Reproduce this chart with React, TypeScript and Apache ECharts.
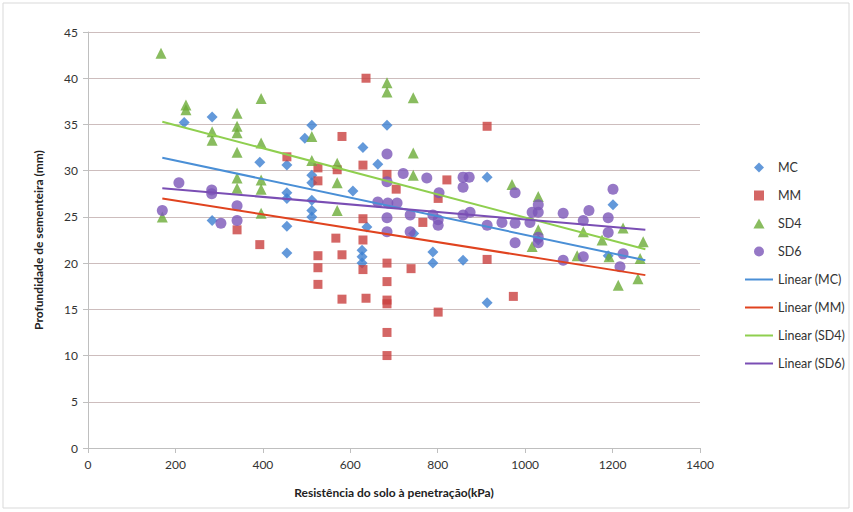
import React, { useEffect, useRef } from "react";
import * as echarts from "echarts";

const xTicks = [0, 200, 400, 600, 800, 1000, 1200, 1400];

const mcData: [number, number][] = [
  [220, 35.2], [284, 35.8], [284, 24.6], [393, 30.9], [455, 30.6], [455, 27.6], [455, 27.0],
  [455, 24.0], [455, 21.1], [496, 33.5], [512, 34.9], [512, 29.5], [512, 28.7], [512, 26.8],
  [512, 25.7], [512, 25.0], [606, 27.8], [629, 32.5], [627, 21.4], [627, 20.7], [627, 20.0],
  [638, 23.9], [663, 30.7], [684, 34.9], [745, 23.2], [789, 21.2], [789, 20.0], [858, 20.3],
  [913, 29.3], [913, 15.7], [1030, 22.5], [1190, 20.8], [1201, 26.3],
];

const mmData: [number, number][] = [
  [341, 23.6], [393, 22.0], [455, 31.5], [526, 30.3], [526, 28.9], [526, 20.8], [526, 19.5],
  [526, 17.7], [567, 22.7], [570, 30.1], [581, 33.7], [581, 20.9], [581, 16.1], [629, 30.6],
  [629, 24.8], [629, 22.5], [629, 19.3], [636, 40.0], [636, 16.2], [684, 29.6], [684, 20.0],
  [684, 18.0], [684, 16.0], [684, 15.6], [684, 12.5], [684, 10.0], [705, 28.0], [739, 19.4],
  [766, 24.4], [801, 27.0], [801, 14.7], [821, 29.0], [913, 34.8], [913, 20.4], [973, 16.4],
];

const sd4Data: [number, number][] = [
  [167, 42.7], [170, 25.0], [224, 37.1], [224, 36.6], [284, 34.2], [284, 33.3], [341, 36.2],
  [341, 34.8], [341, 34.1], [341, 32.0], [341, 29.2], [341, 28.1], [396, 37.8], [396, 33.0],
  [396, 29.0], [396, 28.0], [396, 25.4], [512, 33.7], [512, 31.1], [570, 30.8], [570, 28.7],
  [570, 25.7], [684, 39.5], [684, 38.5], [744, 37.9], [744, 31.9], [744, 29.5], [970, 28.5],
  [1016, 21.8], [1030, 27.2], [1030, 23.6], [1119, 20.8], [1133, 23.4], [1176, 22.5],
  [1192, 20.7], [1213, 17.6], [1224, 23.8], [1258, 18.3], [1263, 20.5], [1270, 22.3],
];

const sd6Data: [number, number][] = [
  [170, 25.7], [208, 28.7], [283, 27.9], [283, 27.5], [304, 24.3], [341, 26.2], [341, 24.6],
  [663, 26.6], [684, 31.8], [684, 28.8], [684, 24.9], [684, 23.4], [686, 26.5], [707, 26.5],
  [721, 29.7], [737, 25.2], [737, 23.4], [775, 29.2], [789, 25.2], [801, 24.7], [801, 24.1],
  [803, 27.6], [858, 29.3], [858, 28.2], [858, 25.2], [872, 29.3], [874, 25.5], [913, 24.1],
  [947, 24.4], [977, 27.6], [977, 24.3], [977, 22.2], [1011, 24.4], [1016, 25.5], [1030, 26.3],
  [1030, 25.5], [1030, 22.8], [1030, 22.2], [1087, 25.4], [1087, 20.3], [1133, 24.6],
  [1133, 20.7], [1146, 25.7], [1190, 24.9], [1190, 23.3], [1201, 28.0], [1217, 19.6], [1224, 21.0],
];

// trend line end points (x from 170 to 1275)
const linMC: [number, number][] = [[170, 31.4], [1275, 20.3]];
const linMM: [number, number][] = [[170, 27.0], [1275, 18.7]];
const linSD4: [number, number][] = [[170, 35.3], [1275, 21.5]];
const linSD6: [number, number][] = [[170, 28.1], [1275, 23.6]];

const FONT = "Lato, 'Open Sans', sans-serif";

const ICON_DIAMOND = "path://M0,-5L5,0L0,5L-5,0Z";
const ICON_SQUARE = "path://M-4,-4L4,-4L4,4L-4,4Z";
const ICON_TRIANGLE = "path://M0,-5L5,4L-5,4Z";
const ICON_CIRCLE = "path://M5,0A5,5,0,1,1,-5,0A5,5,0,1,1,5,0Z";
const ICON_LINE = "path://M0,0L28,0L28,2L0,2Z";

export default function App() {
  const ref = useRef<HTMLDivElement>(null);
  useEffect(() => {
    if (!ref.current) return;
    const chart = echarts.init(ref.current, undefined, { renderer: "svg" });
    const scatter = (name: string, data: [number, number][], symbol: string, size: number, color: string) => ({
      name,
      type: "scatter",
      data,
      symbol,
      symbolSize: size,
      itemStyle: { color },
      z: 2,
    });
    const line = (name: string, data: [number, number][], color: string) => ({
      name,
      type: "line",
      data,
      symbol: "none",
      lineStyle: { color, width: 2 },
      itemStyle: { color },
      z: 3,
    });
    chart.setOption({
      animation: false,
      backgroundColor: "#ffffff",
      textStyle: { fontFamily: FONT },
      grid: { left: 88, right: 153, top: 32, bottom: 64 },
      graphic: [
        {
          type: "rect",
          shape: { x: 3, y: 3, width: 846, height: 505 },
          style: { fill: "none", stroke: "#d9d9d9", lineWidth: 1 },
          silent: true,
        },
      ],
      legend: {
        orient: "vertical",
        left: 740,
        top: 156,
        itemWidth: 28,
        itemHeight: 10,
        itemGap: 15,
        symbolKeepAspect: true,
        textStyle: { fontFamily: FONT, fontSize: 12.5, color: "#333" },
        data: [
          { name: "MC", icon: ICON_DIAMOND },
          { name: "MM", icon: ICON_SQUARE },
          { name: "SD4", icon: ICON_TRIANGLE },
          { name: "SD6", icon: ICON_CIRCLE },
          { name: "Linear (MC)", icon: ICON_LINE },
          { name: "Linear (MM)", icon: ICON_LINE },
          { name: "Linear (SD4)", icon: ICON_LINE },
          { name: "Linear (SD6)", icon: ICON_LINE },
        ],
      },
      xAxis: {
        type: "value",
        min: xTicks[0],
        max: xTicks[xTicks.length - 1],
        interval: 200,
        name: "Resistência do solo à penetração(kPa)",
        nameLocation: "middle",
        nameGap: 38,
        nameTextStyle: { fontFamily: FONT, fontWeight: "bold", fontSize: 12, color: "#222" },
        axisLine: { show: true, lineStyle: { color: "#bfbfbf" } },
        axisTick: { show: true, length: 5, lineStyle: { color: "#bfbfbf" } },
        axisLabel: { fontFamily: FONT, fontSize: 12, color: "#333", margin: 10, formatter: (v: number) => String(v) },
        splitLine: { show: false },
      },
      yAxis: {
        type: "value",
        min: 0,
        max: 45,
        interval: 5,
        name: "Profundidade de sementeira (mm)",
        nameLocation: "middle",
        nameGap: 44,
        nameTextStyle: { fontFamily: FONT, fontWeight: "bold", fontSize: 12, color: "#222" },
        axisLine: { show: true, lineStyle: { color: "#bfbfbf" } },
        axisTick: { show: true, length: 5, lineStyle: { color: "#bfbfbf" } },
        axisLabel: { fontFamily: FONT, fontSize: 12, color: "#333", margin: 10 },
        splitLine: { show: true, lineStyle: { color: "#cdbdbd", width: 1 } },
      },
      series: [
        scatter("MC", mcData, "diamond", 11, "#3c7fd1"),
        scatter("MM", mmData, "rect", 9, "#c9403e"),
        scatter("SD4", sd4Data, "triangle", 11, "#6bab37"),
        scatter("SD6", sd6Data, "circle", 11, "#7c56b8"),
        line("Linear (MC)", linMC, "#4a8fd6"),
        line("Linear (MM)", linMM, "#e0431f"),
        line("Linear (SD4)", linSD4, "#8fcf4f"),
        line("Linear (SD6)", linSD6, "#7a4eb4"),
      ],
    });
    return () => chart.dispose();
  }, []);
  return <div ref={ref} style={{ position: "fixed", left: 0, top: 0, width: 853, height: 512 }} />;
}
